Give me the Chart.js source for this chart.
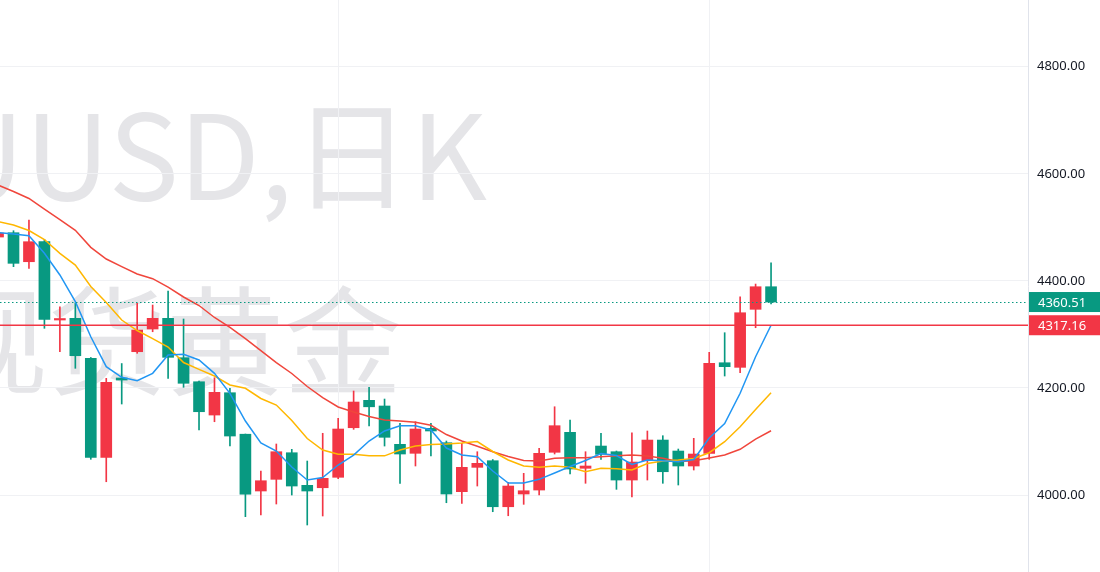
<!DOCTYPE html>
<html>
<head>
<meta charset="utf-8">
<script src="https://cdn.jsdelivr.net/npm/chart.js@4.4.1/dist/chart.umd.min.js"></script>
<style>
    html, body { margin: 0; padding: 0; background: #fff; }
    #wrap { width: 1100px; height: 572px; position: relative; }
</style>
</head>
<body>
<div id="wrap"><canvas id="klineChart"></canvas></div>
<script>
// XAUUSD daily bars, oldest first. Index -1 is cut off by the left edge.
const dayIndex = [-1, 0, 1, 2, 3, 4, 5, 6, 7, 8, 9, 10, 11, 12, 13, 14, 15, 16, 17, 18, 19,
    20, 21, 22, 23, 24, 25, 26, 27, 28, 29, 30, 31, 32, 33, 34, 35, 36, 37, 38, 39,
    40, 41, 42, 43, 44, 45, 46, 47, 48, 49];
const opens = [4481.9, 4490.0, 4435.8, 4473.2, 4326.9, 4330.1, 4255.4, 4070.4, 4218.6, 4267.7, 4310.1,
    4330.1, 4256.5, 4211.6, 4149.4, 4191.1, 4113.6, 4007.5, 4029.3, 4079.0, 4018.1,
    4013.6, 4033.1, 4125.7, 4176.9, 4166.3, 4094.7, 4077.9, 4124.6, 4097.7, 4006.2,
    4051.7, 4064.1, 3978.1, 4001.9, 4009.3, 4079.8, 4117.1, 4049.9, 4091.5, 4080.9,
    4028.0, 4064.1, 4102.7, 4082.2, 4054.2, 4077.9, 4247.1, 4238.5, 4346.9, 4389.1];
const highs = [4493.2, 4493.7, 4513.7, 4477.6, 4351.7, 4358.7, 4256.9, 4218.0, 4245.6, 4358.1, 4354.9,
    4381.1, 4328.8, 4213.0, 4219.1, 4199.3, 4113.9, 4044.8, 4095.3, 4085.4, 4063.5,
    4115.3, 4143.3, 4194.3, 4201.2, 4179.3, 4133.9, 4136.9, 4133.9, 4100.9, 4096.6,
    4080.9, 4066.3, 4023.7, 4040.5, 4087.2, 4164.9, 4140.1, 4080.9, 4115.3, 4082.2,
    4116.4, 4119.6, 4110.8, 4085.9, 4105.9, 4266.6, 4303.2, 4370.4, 4394.1, 4433.9];
const lows = [4478.2, 4426.5, 4423.5, 4311.4, 4267.7, 4236.7, 4066.7, 4024.8, 4170.0, 4264.7, 4305.0,
    4218.0, 4201.2, 4121.4, 4136.9, 4091.5, 3959.5, 3962.6, 3983.2, 4000.0, 3944.0,
    3960.8, 4030.4, 4122.7, 4128.9, 4091.5, 4021.9, 4054.2, 4072.9, 3985.6, 3984.5,
    4016.8, 3968.8, 3961.3, 3982.6, 4000.0, 4076.6, 4039.2, 4021.9, 4066.7, 4010.6,
    3996.3, 4028.0, 4021.9, 4018.7, 4046.7, 4066.7, 4222.3, 4228.5, 4312.5, 4356.8];
const closes = [4489.4, 4432.8, 4473.2, 4328.2, 4328.8, 4260.2, 4070.4, 4210.5, 4214.8, 4308.2, 4330.1,
    4257.2, 4208.7, 4155.6, 4191.8, 4110.2, 4001.5, 4026.7, 4080.9, 4016.8, 4007.5,
    4031.2, 4123.3, 4173.7, 4164.8, 4107.8, 4076.6, 4123.3, 4119.6, 4001.9, 4051.7,
    4059.2, 3978.1, 4016.8, 4008.0, 4077.9, 4129.5, 4048.6, 4054.2, 4076.0, 4028.0,
    4061.6, 4102.7, 4043.5, 4054.2, 4076.6, 4246.0, 4239.7, 4340.5, 4389.1, 4360.51];

// moving averages
const ma5 = [4490.4, 4487.5, 4484.4, 4451.5, 4411.0, 4361.1, 4295.7, 4239.7, 4219.9, 4213.5, 4227.3,
    4261.5, 4262.8, 4252.2, 4227.3, 4190.0, 4138.2, 4097.1, 4082.2, 4052.3, 4028.0,
    4032.7, 4056.0, 4074.7, 4100.9, 4119.6, 4129.5, 4129.5, 4121.4, 4087.8, 4074.7,
    4071.5, 4044.8, 4022.4, 4022.4, 4029.3, 4041.1, 4053.2, 4064.4, 4077.5, 4073.8,
    4057.0, 4065.4, 4064.1, 4062.2, 4066.3, 4106.5, 4133.6, 4190.0, 4258.3, 4317.16];
const ma10 = [4510.9, 4504.4, 4494.1, 4477.3, 4451.5, 4429.6, 4389.5, 4359.6, 4326.9, 4307.3, 4292.3,
    4276.5, 4247.5, 4234.8, 4222.3, 4205.5, 4199.3, 4180.3, 4168.1, 4139.2, 4105.5,
    4084.1, 4076.0, 4076.0, 4073.4, 4073.2, 4084.1, 4091.5, 4094.3, 4095.3, 4097.1,
    4099.9, 4081.3, 4065.4, 4054.2, 4051.7, 4054.2, 4051.7, 4043.5, 4049.9, 4049.1,
    4046.7, 4058.8, 4063.5, 4065.4, 4068.2, 4079.0, 4099.6, 4127.6, 4159.7, 4191.1];
const ma20 = [4579.1, 4566.9, 4553.9, 4534.2, 4514.6, 4494.5, 4462.7, 4440.8, 4426.5, 4412.8, 4404.1,
    4388.5, 4369.9, 4354.0, 4331.6, 4313.3, 4292.3, 4269.9, 4247.5, 4227.0, 4202.7,
    4182.1, 4164.4, 4155.0, 4146.6, 4140.1, 4138.2, 4135.8, 4130.2, 4113.0, 4100.9,
    4091.0, 4080.7, 4071.9, 4064.4, 4063.5, 4068.6, 4069.7, 4069.7, 4071.5, 4073.4,
    4074.7, 4072.9, 4068.6, 4062.6, 4064.1, 4069.1, 4074.7, 4085.4, 4104.6, 4120.1];

const lastPrice = 4360.51;
const ma5Price = 4317.16;
const priceTicks = [4000, 4200, 4400, 4600, 4800];
const monthStarts = [21, 45];

const UP = '#f23645';
const DOWN = '#089981';

const candleColors = dayIndex.map((d, i) => closes[i] >= opens[i] ? UP : DOWN);

// big grey symbol name behind the candles
const watermarkPlugin = {
    id: 'watermark',
    beforeDraw(chart) {
        const ctx = chart.ctx;
        ctx.save();
        ctx.fillStyle = '#e5e5e8';
        ctx.textAlign = 'right';
        ctx.textBaseline = 'alphabetic';
        ctx.font = '118px "Noto Sans CJK SC"';
        ctx.fillText('XAUUSD,日K', 487, 200);
        ctx.fillText('现货黄金', 402, 386);
        ctx.restore();
    }
};

// price lines and their labels on the right axis
const priceLinePlugin = {
    id: 'priceLines',
    afterDatasetsDraw(chart) {
        const ctx = chart.ctx;
        const area = chart.chartArea;
        const y = chart.scales.y;
        ctx.save();
        // dotted last-price line
        const pyLast = Math.round(y.getPixelForValue(lastPrice));
        ctx.fillStyle = DOWN;
        for (let x = area.left; x < area.right; x += 4) {
            ctx.fillRect(x, pyLast, 1.5, 1);
        }
        // solid MA5 line
        const pyMa = Math.round(y.getPixelForValue(ma5Price));
        ctx.fillStyle = UP;
        ctx.fillRect(area.left, pyMa - 0.5, area.right - area.left, 1.5);

        [[lastPrice, DOWN], [ma5Price, UP]].forEach(([value, color]) => {
            const py = y.getPixelForValue(value);
            ctx.fillStyle = color;
            ctx.fillRect(area.right + 1, py - 10, y.width, 20);
            ctx.fillStyle = '#ffffff';
            ctx.font = '13px "Noto Sans"';
            ctx.textAlign = 'left';
            ctx.textBaseline = 'middle';
            ctx.fillText(value.toFixed(2), area.right + 10, py + 1);
        });
        ctx.restore();
    }
};

const ctx = document.getElementById('klineChart');
new Chart(ctx, {
    type: 'bar',
    data: {
        datasets: [
            {
                label: 'MA5',
                type: 'line',
                data: dayIndex.map((d, i) => ({ x: d, y: ma5[i] })),
                borderColor: '#2196f3',
                borderWidth: 1.5,
                pointRadius: 0,
                tension: 0,
                order: 0
            },
            {
                label: 'MA10',
                type: 'line',
                data: dayIndex.map((d, i) => ({ x: d, y: ma10[i] })),
                borderColor: '#ffb700',
                borderWidth: 1.5,
                pointRadius: 0,
                tension: 0,
                order: 0
            },
            {
                label: 'MA20',
                type: 'line',
                data: dayIndex.map((d, i) => ({ x: d, y: ma20[i] })),
                borderColor: '#f0463c',
                borderWidth: 1.5,
                pointRadius: 0,
                tension: 0,
                order: 0
            },
            {
                label: 'body',
                data: dayIndex.map((d, i) => ({ x: d, y: [opens[i], closes[i]] })),
                backgroundColor: candleColors,
                barThickness: 11,
                minBarLength: 1.5,
                grouped: false,
                borderSkipped: false,
                order: 1
            },
            {
                label: 'wick',
                data: dayIndex.map((d, i) => ({ x: d, y: [lows[i], highs[i]] })),
                backgroundColor: candleColors,
                barThickness: 1,
                grouped: false,
                borderSkipped: false,
                order: 2
            }
        ]
    },
    options: {
        responsive: true,
        maintainAspectRatio: false,
        animation: false,
        layout: { padding: 0 },
        plugins: {
            legend: { display: false },
            tooltip: { enabled: false }
        },
        scales: {
            x: {
                type: 'linear',
                min: -0.873,
                max: 65.62,
                offset: false,
                afterBuildTicks: scale => {
                    scale.ticks = monthStarts.map(v => ({ value: v }));
                },
                ticks: { display: false },
                grid: { color: '#f0f1f4', drawTicks: false, offset: false },
                border: { display: false }
            },
            y: {
                position: 'right',
                min: 3856.2,
                max: 4924.7,
                afterBuildTicks: scale => {
                    scale.ticks = priceTicks.map(v => ({ value: v }));
                },
                afterFit: scale => {
                    scale.width = 72;
                    scale.paddingTop = 0;
                    scale.paddingBottom = 0;
                },
                ticks: {
                    padding: 9,
                    color: '#131722',
                    font: { family: 'Noto Sans', size: 13 },
                    callback: v => Number(v).toFixed(2)
                },
                grid: { color: '#f0f1f4', drawTicks: false },
                border: { color: '#e0e3eb' }
            }
        }
    },
    plugins: [watermarkPlugin, priceLinePlugin]
});
</script>
</body>
</html>
